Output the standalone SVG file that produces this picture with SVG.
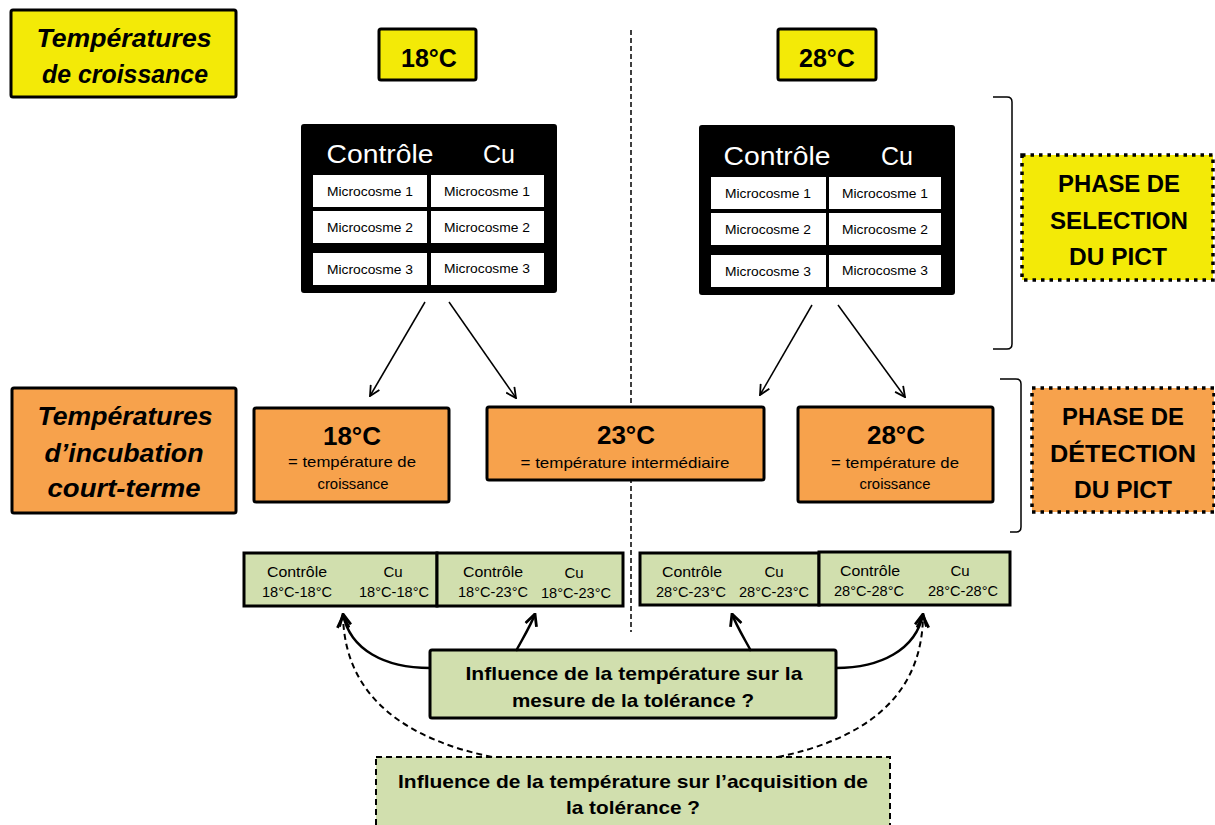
<svg xmlns="http://www.w3.org/2000/svg" width="1215" height="825" viewBox="0 0 1215 825">
<defs>
<style>
text{font-family:"Liberation Sans",Arial,sans-serif;text-anchor:middle;fill:#000}
.b{font-weight:bold}
.bi{font-weight:bold;font-style:italic}
.yel{fill:#f3ea07;stroke:#000;stroke-width:3}
.org{fill:#f7a24c;stroke:#000;stroke-width:3}
.grn{fill:#d1dfae;stroke:#000;stroke-width:3}
.blk{fill:#000;stroke:#000;stroke-width:2}
.cell{fill:#fff}
.wt{fill:#fff;font-size:25px}
.mc{font-size:13.5px}
.gt{font-size:15px}
.ln{fill:none;stroke:#000;stroke-width:1.5}
.cv{fill:none;stroke:#000;stroke-width:2.5}
.dcv{fill:none;stroke:#000;stroke-width:2;stroke-dasharray:6 4}
</style>
<marker id="ah" viewBox="0 0 12 12" refX="11" refY="6" markerWidth="12" markerHeight="12" markerUnits="userSpaceOnUse" orient="auto">
<path d="M1,1 L11,6 L1,11" fill="none" stroke="#000" stroke-width="1.8"/>
</marker>
<marker id="ah2" viewBox="0 0 12 12" refX="11" refY="6" markerWidth="14" markerHeight="14" markerUnits="userSpaceOnUse" orient="auto">
<path d="M1,1 L11,6 L1,11" fill="none" stroke="#000" stroke-width="2.4"/>
</marker>
</defs>
<rect width="1215" height="825" fill="#fff"/>

<g id="divider">
<line x1="631" y1="30" x2="631" y2="632" stroke="#000" stroke-width="1.5" stroke-dasharray="5 3"/>
</g>

<g id="growth-label">
<rect class="yel" x="11" y="10" width="225" height="87" rx="2"/>
<text class="bi" x="124" y="47" font-size="26" textLength="175" lengthAdjust="spacingAndGlyphs">Températures</text>
<text class="bi" x="125" y="83" font-size="26" textLength="166" lengthAdjust="spacingAndGlyphs">de croissance</text>
</g>

<g id="t18">
<rect class="yel" x="379" y="29" width="97" height="51" rx="2"/>
<text class="b" x="429" y="67" font-size="25">18°C</text>
</g>
<g id="t28">
<rect class="yel" x="778" y="29" width="98" height="51" rx="2"/>
<text class="b" x="827" y="67" font-size="25">28°C</text>
</g>

<g id="micro18">
<rect class="blk" x="302" y="125" width="254" height="167" rx="2"/>
<text class="wt" x="380" y="163" textLength="107" lengthAdjust="spacingAndGlyphs">Contrôle</text>
<text class="wt" x="499" y="163">Cu</text>
<rect class="cell" x="313" y="175" width="114" height="32"/>
<rect class="cell" x="431" y="175" width="113" height="32"/>
<rect class="cell" x="313" y="211" width="114" height="32"/>
<rect class="cell" x="431" y="211" width="113" height="32"/>
<rect class="cell" x="313" y="253" width="114" height="32"/>
<rect class="cell" x="431" y="253" width="113" height="32"/>
<text class="mc" x="370" y="196" textLength="86" lengthAdjust="spacingAndGlyphs">Microcosme 1</text>
<text class="mc" x="487" y="196" textLength="86" lengthAdjust="spacingAndGlyphs">Microcosme 1</text>
<text class="mc" x="370" y="232" textLength="86" lengthAdjust="spacingAndGlyphs">Microcosme 2</text>
<text class="mc" x="487" y="232" textLength="86" lengthAdjust="spacingAndGlyphs">Microcosme 2</text>
<text class="mc" x="370" y="274" textLength="86" lengthAdjust="spacingAndGlyphs">Microcosme 3</text>
<text class="mc" x="487" y="273" textLength="86" lengthAdjust="spacingAndGlyphs">Microcosme 3</text>
</g>

<g id="micro28">
<rect class="blk" x="700" y="126" width="254" height="168" rx="2"/>
<text class="wt" x="777" y="165" textLength="107" lengthAdjust="spacingAndGlyphs">Contrôle</text>
<text class="wt" x="897" y="165">Cu</text>
<rect class="cell" x="711" y="177" width="115" height="32"/>
<rect class="cell" x="829" y="177" width="112" height="32"/>
<rect class="cell" x="711" y="213" width="115" height="32"/>
<rect class="cell" x="829" y="213" width="112" height="32"/>
<rect class="cell" x="711" y="255" width="115" height="32"/>
<rect class="cell" x="829" y="255" width="112" height="32"/>
<text class="mc" x="768" y="198" textLength="86" lengthAdjust="spacingAndGlyphs">Microcosme 1</text>
<text class="mc" x="885" y="198" textLength="86" lengthAdjust="spacingAndGlyphs">Microcosme 1</text>
<text class="mc" x="768" y="234" textLength="86" lengthAdjust="spacingAndGlyphs">Microcosme 2</text>
<text class="mc" x="885" y="234" textLength="86" lengthAdjust="spacingAndGlyphs">Microcosme 2</text>
<text class="mc" x="768" y="276" textLength="86" lengthAdjust="spacingAndGlyphs">Microcosme 3</text>
<text class="mc" x="885" y="275" textLength="86" lengthAdjust="spacingAndGlyphs">Microcosme 3</text>
</g>

<g id="brackets">
<path class="ln" d="M993,97 L1007,97 Q1012,97 1012,102 L1012,344 Q1012,349 1007,349 L993,349" stroke-width="2"/>
<path class="ln" d="M1000,379 L1016,379 Q1021,379 1021,384 L1021,527 Q1021,532 1016,532 L1010,532" stroke-width="2"/>
</g>

<g id="phase-selection">
<rect x="1022" y="155" width="191" height="125" fill="#f3ea07" stroke="#000" stroke-width="3.5" stroke-dasharray="3.5 5"/>
<text class="b" x="1119" y="192" font-size="24" textLength="122" lengthAdjust="spacingAndGlyphs">PHASE DE</text>
<text class="b" x="1119" y="229" font-size="24" textLength="138" lengthAdjust="spacingAndGlyphs">SELECTION</text>
<text class="b" x="1118" y="265" font-size="24" textLength="98" lengthAdjust="spacingAndGlyphs">DU PICT</text>
</g>

<g id="phase-detection">
<rect x="1032" y="388" width="182" height="124" fill="#f7a24c" stroke="#000" stroke-width="3.5" stroke-dasharray="3.5 5"/>
<text class="b" x="1123" y="425" font-size="24" textLength="122" lengthAdjust="spacingAndGlyphs">PHASE DE</text>
<text class="b" x="1123" y="462" font-size="24" textLength="146" lengthAdjust="spacingAndGlyphs">DÉTECTION</text>
<text class="b" x="1123" y="498" font-size="24" textLength="98" lengthAdjust="spacingAndGlyphs">DU PICT</text>
</g>

<g id="incubation-label">
<rect class="org" x="12" y="388" width="224" height="125" rx="2"/>
<text class="bi" x="125" y="425" font-size="26" textLength="175" lengthAdjust="spacingAndGlyphs">Températures</text>
<text class="bi" x="124" y="462" font-size="26" textLength="159" lengthAdjust="spacingAndGlyphs">d’incubation</text>
<text class="bi" x="124" y="497" font-size="26" textLength="153" lengthAdjust="spacingAndGlyphs">court-terme</text>
</g>

<g id="inc18">
<rect class="org" x="254" y="408" width="195" height="94" rx="2"/>
<text class="b" x="352" y="445" font-size="26">18°C</text>
<text x="352" y="467" font-size="15" textLength="128" lengthAdjust="spacingAndGlyphs">= température de</text>
<text x="353" y="489" font-size="15" textLength="71" lengthAdjust="spacingAndGlyphs">croissance</text>
</g>
<g id="inc23">
<rect class="org" x="487" y="407" width="277" height="73" rx="2"/>
<text class="b" x="626" y="444" font-size="26">23°C</text>
<text x="625" y="468" font-size="15" textLength="209" lengthAdjust="spacingAndGlyphs">= température intermédiaire</text>
</g>
<g id="inc28">
<rect class="org" x="798" y="407" width="195" height="95" rx="2"/>
<text class="b" x="896" y="444" font-size="26">28°C</text>
<text x="895" y="468" font-size="15" textLength="128" lengthAdjust="spacingAndGlyphs">= température de</text>
<text x="895" y="489" font-size="15" textLength="71" lengthAdjust="spacingAndGlyphs">croissance</text>
</g>

<g id="res18-18">
<rect class="grn" x="244" y="553" width="193" height="53"/>
<text class="gt" x="297" y="577" textLength="60" lengthAdjust="spacingAndGlyphs">Contrôle</text>
<text class="gt" x="297" y="597" textLength="70" lengthAdjust="spacingAndGlyphs">18°C-18°C</text>
<text class="gt" x="393" y="577">Cu</text>
<text class="gt" x="394" y="597" textLength="70" lengthAdjust="spacingAndGlyphs">18°C-18°C</text>
</g>
<g id="res18-23">
<rect class="grn" x="437" y="553" width="186" height="53"/>
<text class="gt" x="493" y="577" textLength="60" lengthAdjust="spacingAndGlyphs">Contrôle</text>
<text class="gt" x="493" y="597" textLength="70" lengthAdjust="spacingAndGlyphs">18°C-23°C</text>
<text class="gt" x="574" y="578">Cu</text>
<text class="gt" x="576" y="598" textLength="70" lengthAdjust="spacingAndGlyphs">18°C-23°C</text>
</g>
<g id="res28-23">
<rect class="grn" x="640" y="553" width="179" height="52"/>
<text class="gt" x="692" y="577" textLength="60" lengthAdjust="spacingAndGlyphs">Contrôle</text>
<text class="gt" x="691" y="597" textLength="70" lengthAdjust="spacingAndGlyphs">28°C-23°C</text>
<text class="gt" x="774" y="577">Cu</text>
<text class="gt" x="774" y="597" textLength="70" lengthAdjust="spacingAndGlyphs">28°C-23°C</text>
</g>
<g id="res28-28">
<rect class="grn" x="819" y="552" width="191" height="53"/>
<text class="gt" x="870" y="576" textLength="60" lengthAdjust="spacingAndGlyphs">Contrôle</text>
<text class="gt" x="869" y="596" textLength="70" lengthAdjust="spacingAndGlyphs">28°C-28°C</text>
<text class="gt" x="960" y="576">Cu</text>
<text class="gt" x="963" y="596" textLength="70" lengthAdjust="spacingAndGlyphs">28°C-28°C</text>
</g>

<g id="question-measure">
<rect class="grn" x="430" y="650" width="406" height="68" rx="2"/>
<text class="b" x="634" y="680" font-size="18.5" textLength="337" lengthAdjust="spacingAndGlyphs">Influence de la température sur la</text>
<text class="b" x="633" y="707" font-size="18.5" textLength="242" lengthAdjust="spacingAndGlyphs">mesure de la tolérance ?</text>
</g>

<g id="question-acquisition">
<rect x="376" y="757" width="514" height="75" fill="#d1dfae" stroke="#000" stroke-width="2" stroke-dasharray="6 4"/>
<text class="b" x="633" y="788" font-size="18.5" textLength="470" lengthAdjust="spacingAndGlyphs">Influence de la température sur l’acquisition de</text>
<text class="b" x="633" y="814" font-size="18.5" textLength="134" lengthAdjust="spacingAndGlyphs">la tolérance ?</text>
</g>

<g id="connectors">
<line class="ln" x1="425" y1="302" x2="370" y2="396" marker-end="url(#ah)"/>
<line class="ln" x1="449" y1="302" x2="516" y2="398" marker-end="url(#ah)"/>
<line class="ln" x1="812" y1="305" x2="760" y2="395" marker-end="url(#ah)"/>
<line class="ln" x1="838" y1="305" x2="905" y2="397" marker-end="url(#ah)"/>
<path class="cv" d="M430,668 C385,668 350,650 343,614" marker-end="url(#ah2)"/>
<path class="cv" d="M516,651 C523,638 531,625 535,614" marker-end="url(#ah2)"/>
<path class="cv" d="M751,651 C744,638 736,625 732,614" marker-end="url(#ah2)"/>
<path class="cv" d="M836,668 C880,668 916,650 923,614" marker-end="url(#ah2)"/>
<path class="dcv" d="M492,757 C410,740 345,700 343,616" marker-end="url(#ah2)"/>
<path class="dcv" d="M778,757 C860,740 922,700 923,616" marker-end="url(#ah2)"/>
</g>
</svg>
